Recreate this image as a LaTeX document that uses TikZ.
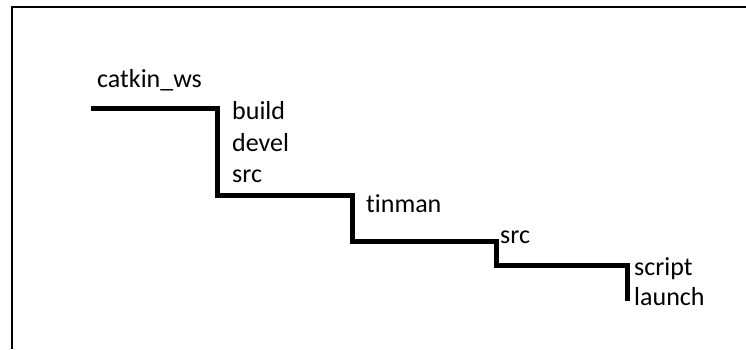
\documentclass[tikz,border=0pt]{standalone}
\usepackage{fontspec}
\setmainfont{Carlito}[Ligatures={NoCommon}]
\begin{document}
\begin{tikzpicture}[x=1pt,y=-1pt,
  lbl/.style={anchor=base west,inner sep=0pt,font=\fontsize{26}{30}\selectfont},
  stair/.style={line width=5pt,line join=miter,line cap=butt},
  frame/.style={line width=2pt}]
\useasboundingbox (0,0) rectangle (746,349);
\fill[white] (0,0) rectangle (746,349);
\draw[frame] (12,349) -- (12,7) -- (746,7);
\coordinate (p0) at (91,108);
\coordinate (p1) at (217,108);
\coordinate (p2) at (217,195);
\coordinate (p3) at (352,195);
\coordinate (p4) at (352,241);
\coordinate (p5) at (496,241);
\coordinate (p6) at (496,265);
\coordinate (p7) at (627,265);
\coordinate (p8) at (627,301);
\draw[stair] (p0) -- (p1) -- (p2) -- (p3) -- (p4) -- (p5) -- (p6) -- (p7) -- (p8);
\node[lbl] (ws) at (97,87) {catkin\_ws};
\node[lbl] (build) at (232,119) {build};
\node[lbl] (devel) at (232,151) {devel};
\node[lbl] (src1) at (232,182) {src};
\node[lbl] (tinman) at (366,212) {tinman};
\node[lbl] (src2) at (500,243) {src};
\node[lbl] (script) at (634,275) {script};
\node[lbl] (launch) at (634,305) {launch};
\end{tikzpicture}
\end{document}
